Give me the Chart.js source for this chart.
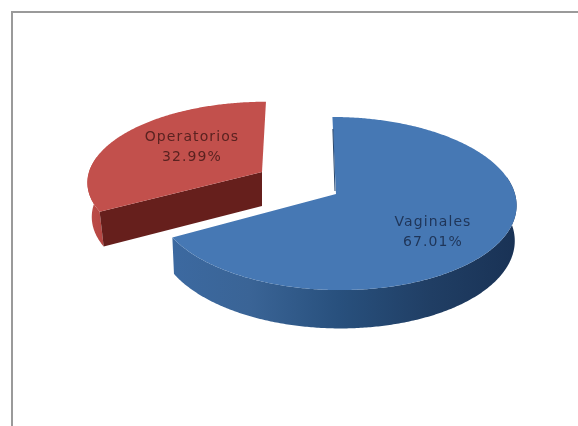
<!DOCTYPE html>
<html>
<head>
<meta charset="utf-8">
<title>Partos</title>
<script src="https://cdn.jsdelivr.net/npm/chart.js@4/dist/chart.umd.min.js"></script>
<style>
  html, body { margin: 0; background: #fff; }
  #frame { position: absolute; left: 11px; top: 11px; right: 0; bottom: 0; border-top: 2px solid #9a9a9a; border-left: 2px solid #9a9a9a; }
  #pie { position: absolute; left: 0; top: 0; }
</style>
</head>
<body>
<div id="frame"></div>
<canvas id="pie" width="578" height="426"></canvas>
<script>
const labels = ["Vaginales", "Operatorios"];
const shares = [67.01, 32.99];

// how each slice sits on the page: the pie is seen from above in perspective
const placement = [
  {
    cx: 336, cy: 194, rx: 179, ry: 85.5, shear: 4, depth: 35, floorScale: 0.99,
    top: "#4678b4", cut: "#26466e", cutIsLine: true,
    rimLeft: 174, rimRight: 517,
    rim: [[0, "#3c69a0"], [0.22, "#3a6496"], [0.48, "#28507d"], [0.75, "#203e64"], [1, "#193255"]],
    textX: 433, textY: 222, textColor: "#1f3558"
  },
  {
    cx: 262, cy: 172, rx: 173, ry: 78, shear: -4.4, depth: 34, floorScale: 0.975,
    top: "#c2504c", cut: "#661f1c", cutIsLine: false,
    rimLeft: 88, rimRight: 110,
    rim: [[0, "#bd4c48"], [1, "#b24440"]],
    textX: 192, textY: 137, textColor: "#5a2220"
  }
];

const tilt = 0.11; // how much nearer the front edge is than the back edge

function project(p, angle, level) {
  const u = Math.cos(angle), v = Math.sin(angle);
  const s = 1 / (1 - tilt * v);
  const shrink = level ? p.floorScale : 1;
  return {
    x: p.cx + (p.rx * u + p.shear * v) * s * shrink,
    y: p.cy + p.ry * v * s * shrink + level * p.depth * s
  };
}

function apex(p, level) {
  return { x: p.cx, y: p.cy + level * p.depth };
}

function drawRim(ctx, p, start, end) {
  const visible = [];
  for (let a = start; a < end; a += 0.01) {
    if (Math.sin(a) > -0.2) visible.push(a);
  }
  if (Math.sin(end) > -0.2) visible.push(end);
  const gradient = ctx.createLinearGradient(p.rimLeft, 0, p.rimRight, 0);
  p.rim.forEach((stop) => gradient.addColorStop(stop[0], stop[1]));

  ctx.beginPath();
  visible.forEach(function (a, i) {
    const q = project(p, a, 0);
    if (i === 0) ctx.moveTo(q.x, q.y);
    else ctx.lineTo(q.x, q.y);
  });
  visible.slice().reverse().forEach(function (a) {
    const q = project(p, a, 1);
    ctx.lineTo(q.x, q.y);
  });
  ctx.closePath();
  ctx.fillStyle = gradient;
  ctx.fill();
}

function drawCut(ctx, p, angle) {
  const a = apex(p, 0), b = project(p, angle, 0);
  const c = project(p, angle, 1), d = apex(p, 1);
  ctx.beginPath();
  ctx.moveTo(a.x, a.y);
  ctx.lineTo(b.x, b.y);
  ctx.lineTo(c.x, c.y);
  ctx.lineTo(d.x, d.y);
  ctx.closePath();
  ctx.fillStyle = p.cut;
  ctx.fill();
}

function drawTop(ctx, p, start, end) {
  const c = apex(p, 0);
  ctx.beginPath();
  ctx.moveTo(c.x, c.y);
  for (let a = start; a < end; a += 0.01) {
    const q = project(p, a, 0);
    ctx.lineTo(q.x, q.y);
  }
  const q = project(p, end, 0);
  ctx.lineTo(q.x, q.y);
  ctx.closePath();
  ctx.fillStyle = p.top;
  ctx.fill();
}

// replaces the flat arcs with extruded slices, using the angles chart.js worked out
const extrudedSlices = {
  id: "extrudedSlices",
  beforeDatasetsDraw(chart) {
    const ctx = chart.ctx;
    const arcs = chart.getDatasetMeta(0).data;
    ctx.save();
    // the smaller slice lies behind the larger one
    [1, 0].forEach(function (i) {
      const p = placement[i];
      const start = arcs[i].startAngle, end = arcs[i].endAngle;
      drawRim(ctx, p, start, end);
      if (!p.cutIsLine) drawCut(ctx, p, start);
      drawTop(ctx, p, start, end);
      if (p.cutIsLine) {
        // thin sliver of the vertical face beside the top edge
        const c = apex(p, 0), q = project(p, start, 0);
        ctx.beginPath();
        ctx.moveTo(c.x - 1, c.y - 3);
        ctx.lineTo(q.x + 0.5, q.y + 12);
        ctx.strokeStyle = p.cut;
        ctx.lineWidth = 1;
        ctx.stroke();
      }
    });
    ctx.textAlign = "center";
    ctx.textBaseline = "middle";
    ctx.font = "14px 'DejaVu Sans'";
    ctx.letterSpacing = "1.1px";
    placement.forEach(function (p, i) {
      ctx.fillStyle = p.textColor;
      ctx.fillText(labels[i], p.textX, p.textY);
      ctx.fillText(shares[i].toFixed(2) + "%", p.textX, p.textY + 20);
    });
    ctx.restore();
    return false;
  }
};

new Chart(document.getElementById("pie"), {
  type: "pie",
  data: {
    labels: labels,
    datasets: [{ data: shares }]
  },
  options: {
    responsive: false,
    animation: false,
    plugins: {
      legend: { display: false },
      tooltip: { enabled: false }
    }
  },
  plugins: [extrudedSlices]
});
</script>
</body>
</html>
